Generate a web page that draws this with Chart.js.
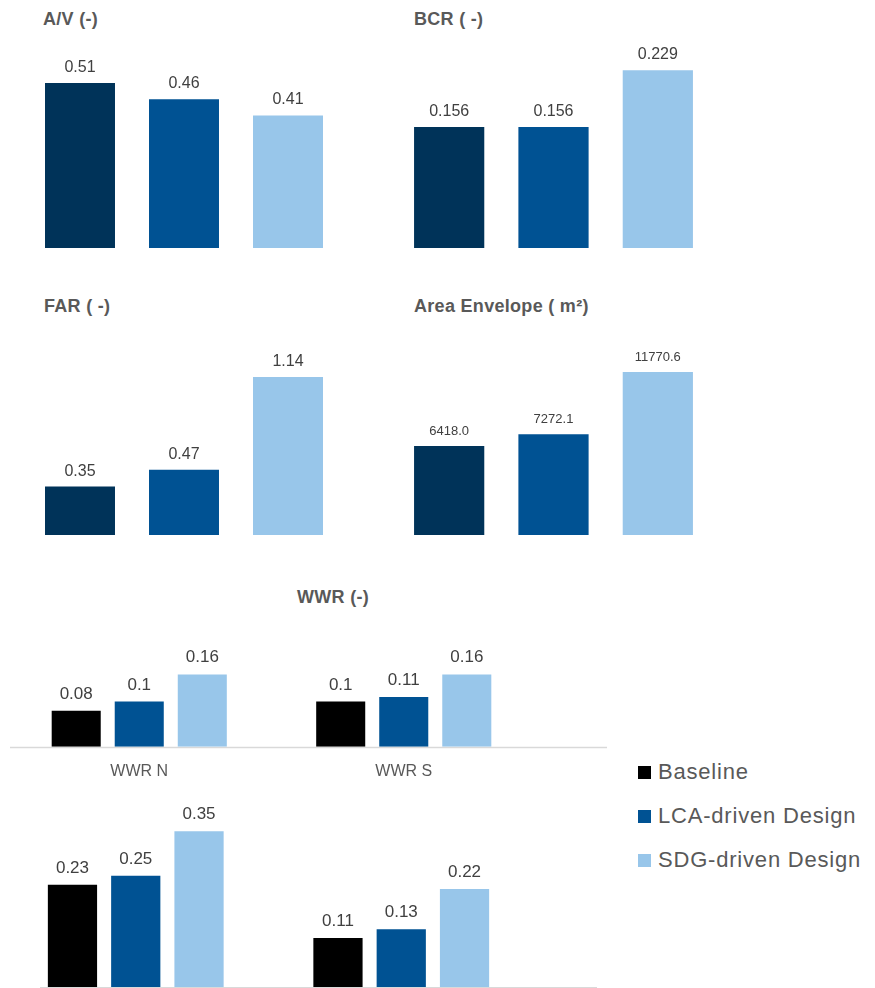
<!DOCTYPE html>
<html>
<head>
<meta charset="utf-8">
<script src="https://cdn.jsdelivr.net/npm/chart.js@4.4.0/dist/chart.umd.min.js"></script>
<style>
  body { margin: 0; background: #fff; overflow: hidden; }
  #page { position: relative; width: 875px; height: 988px; overflow: hidden; font-family: "Liberation Sans", Arial, sans-serif; }
  canvas { position: absolute; }
  .title { position: absolute; font-weight: bold; font-size: 18px; line-height: 20px; color: #595959; white-space: nowrap; letter-spacing: 0.3px; }
  .legend { position: absolute; left: 638px; top: 752px; }
  .legend div { position: relative; height: 44px; line-height: 40px; font-size: 22px; color: #595959; letter-spacing: 0.8px; padding-left: 20px; white-space: nowrap; }
  .legend span { position: absolute; left: 0; top: 14px; width: 13px; height: 13px; }
</style>
</head>
<body>
<div id="page">
  <div class="title" style="left:43px;top:9px">A/V (-)</div>
  <div class="title" style="left:414px;top:9px">BCR ( -)</div>
  <div class="title" style="left:44px;top:296px">FAR ( -)</div>
  <div class="title" style="left:414px;top:296px">Area Envelope ( m²)</div>
  <div class="title" style="left:297px;top:587px">WWR (-)</div>

  <canvas id="avChart" width="312" height="228" style="left:28px;top:20px"></canvas>
  <canvas id="bcrChart" width="313" height="228" style="left:397px;top:20px"></canvas>
  <canvas id="farChart" width="312" height="228" style="left:28px;top:307px"></canvas>
  <canvas id="envChart" width="313" height="228" style="left:397px;top:307px"></canvas>
  <canvas id="wwrTop" width="600" height="247" style="left:7px;top:550px"></canvas>
  <canvas id="wwrBottom" width="594" height="208" style="left:3px;top:780px"></canvas>

  <div class="legend" id="legend"></div>
</div>

<script>
// design variants
const designs = ['Baseline', 'LCA-driven Design', 'SDG-driven Design'];
const panelColors = ['#003359', '#005293', '#98C6EA'];
const wwrColors = ['#000000', '#005293', '#98C6EA'];

// top panels
const avValues = [0.51, 0.46, 0.41];
const bcrValues = [0.156, 0.156, 0.229];
const farValues = [0.35, 0.47, 1.14];
const envelopeValues = [6418.0, 7272.1, 11770.6];

// window-to-wall ratios
const wwrTopLabels = ['WWR N', 'WWR S'];
const wwrTopBaseline = [0.08, 0.1];
const wwrTopLca = [0.1, 0.11];
const wwrTopSdg = [0.16, 0.16];

const wwrBottomLabels = ['WWR E', 'WWR W'];
const wwrBottomBaseline = [0.23, 0.11];
const wwrBottomLca = [0.25, 0.13];
const wwrBottomSdg = [0.35, 0.22];

const FONT = '"Liberation Sans", Arial, sans-serif';

// numbers above the bars
const valueLabels = {
  id: 'valueLabels',
  afterDatasetsDraw(chart, args, opts) {
    const ctx = chart.ctx;
    ctx.save();
    ctx.font = (opts.size || 16) + 'px ' + FONT;
    ctx.fillStyle = '#404040';
    ctx.textAlign = 'center';
    ctx.textBaseline = 'alphabetic';
    chart.data.datasets.forEach((ds, i) => {
      chart.getDatasetMeta(i).data.forEach((el, j) => {
        const v = ds.data[j];
        const txt = opts.decimals != null ? v.toFixed(opts.decimals) : String(v);
        ctx.fillText(txt, el.x, el.y - (opts.gap || 12));
      });
    });
    ctx.restore();
  }
};

// light grey category axis line (extends past the last group)
const baseLine = {
  id: 'baseLine',
  beforeDatasetsDraw(chart, args, opts) {
    if (!opts.draw) return;
    const ctx = chart.ctx;
    const y = chart.scales.y.getPixelForValue(0);
    ctx.save();
    ctx.strokeStyle = '#D9D9D9';
    ctx.lineWidth = 1.5;
    ctx.beginPath();
    ctx.moveTo(opts.from, y + 0.75);
    ctx.lineTo(opts.to, y + 0.75);
    ctx.stroke();
    ctx.restore();
  }
};

Chart.register(valueLabels, baseLine);

function panelChart(id, values, yMax, labelSize, decimals) {
  return new Chart(document.getElementById(id), {
    type: 'bar',
    data: {
      labels: designs,
      datasets: [{
        data: values,
        backgroundColor: panelColors,
        categoryPercentage: 1,
        barPercentage: 0.673
      }]
    },
    options: {
      responsive: false,
      animation: false,
      layout: { padding: { top: 34, bottom: 0 } },
      scales: {
        x: { display: false },
        y: { display: false, min: 0, max: yMax }
      },
      plugins: {
        legend: { display: false },
        tooltip: { enabled: false },
        valueLabels: { size: labelSize, decimals: decimals, gap: 11 },
        baseLine: { draw: false }
      }
    }
  });
}

panelChart('avChart', avValues, 0.6, 16);
panelChart('bcrChart', bcrValues, 0.25, 16);
panelChart('farChart', farValues, 1.4, 16);
panelChart('envChart', envelopeValues, 14000, 13, 1);

function wwrChart(id, labels, series, showTicks, padding, line) {
  return new Chart(document.getElementById(id), {
    type: 'bar',
    data: {
      labels: labels,
      datasets: series.map((s, i) => ({
        label: designs[i],
        data: s,
        backgroundColor: wwrColors[i],
        categoryPercentage: 0.715,
        barPercentage: 0.778
      }))
    },
    options: {
      responsive: false,
      animation: false,
      layout: { padding: padding },
      scales: {
        x: {
          display: showTicks,
          grid: { display: false, drawTicks: false },
          border: { display: false },
          ticks: { padding: 15, color: '#595959', font: { family: FONT, size: 16 } }
        },
        y: { display: false, min: 0, max: 0.4 }
      },
      plugins: {
        legend: { display: false },
        tooltip: { enabled: false },
        valueLabels: { size: 17, gap: 12 },
        baseLine: line
      }
    }
  });
}

wwrChart('wwrTop', wwrTopLabels, [wwrTopBaseline, wwrTopLca, wwrTopSdg], true,
  { top: 16, right: 71, bottom: 1 }, { draw: true, from: 3, to: 600 });
wwrChart('wwrBottom', wwrBottomLabels, [wwrBottomBaseline, wwrBottomLca, wwrBottomSdg], false,
  { top: 29, right: 63, bottom: 1 }, { draw: true, from: 37, to: 594 });

// legend
const legend = document.getElementById('legend');
designs.forEach((name, i) => {
  const row = document.createElement('div');
  row.innerHTML = '<span style="background:' + wwrColors[i] + '"></span>' + name;
  legend.appendChild(row);
});
</script>
</body>
</html>
